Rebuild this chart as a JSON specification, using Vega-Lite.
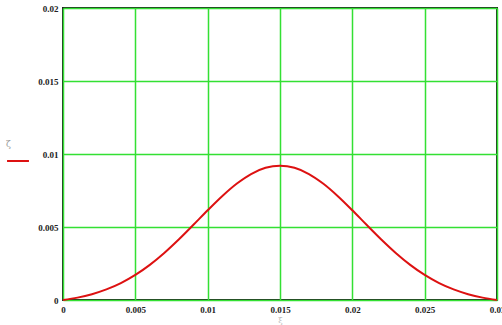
{
  "$schema": "https://vega.github.io/schema/vega-lite/v6.json",
  "width": 434,
  "height": 292,
  "autosize": {"type": "none"},
  "padding": {"left": 63, "top": 8, "right": 5, "bottom": 25},
  "background": "white",
  "config": {
    "view": {"stroke": "#222222", "strokeWidth": 2},
    "axis": {
      "labelFont": "Liberation Serif",
      "labelFontWeight": "bold",
      "labelFontSize": 9,
      "labelColor": "#222222",
      "grid": true,
      "gridColor": "#33e033",
      "gridWidth": 1.5,
      "gridOpacity": 1,
      "ticks": false,
      "domain": false
    }
  },
  "data": {
    "values": [
      {"xi": 0.000, "zeta": 0.0},
      {"xi": 0.001, "zeta": 0.000163},
      {"xi": 0.002, "zeta": 0.000398},
      {"xi": 0.003, "zeta": 0.000724},
      {"xi": 0.004, "zeta": 0.001158},
      {"xi": 0.005, "zeta": 0.001716},
      {"xi": 0.006, "zeta": 0.002405},
      {"xi": 0.007, "zeta": 0.003219},
      {"xi": 0.008, "zeta": 0.00414},
      {"xi": 0.009, "zeta": 0.005132},
      {"xi": 0.010, "zeta": 0.006144},
      {"xi": 0.011, "zeta": 0.00711},
      {"xi": 0.012, "zeta": 0.007961},
      {"xi": 0.013, "zeta": 0.008628},
      {"xi": 0.014, "zeta": 0.009054},
      {"xi": 0.015, "zeta": 0.0092},
      {"xi": 0.016, "zeta": 0.009054},
      {"xi": 0.017, "zeta": 0.008628},
      {"xi": 0.018, "zeta": 0.007961},
      {"xi": 0.019, "zeta": 0.00711},
      {"xi": 0.020, "zeta": 0.006144},
      {"xi": 0.021, "zeta": 0.005132},
      {"xi": 0.022, "zeta": 0.00414},
      {"xi": 0.023, "zeta": 0.003219},
      {"xi": 0.024, "zeta": 0.002405},
      {"xi": 0.025, "zeta": 0.001716},
      {"xi": 0.026, "zeta": 0.001158},
      {"xi": 0.027, "zeta": 0.000724},
      {"xi": 0.028, "zeta": 0.000398},
      {"xi": 0.029, "zeta": 0.000163},
      {"xi": 0.030, "zeta": 0.0}
    ]
  },
  "mark": {"type": "line", "strokeWidth": 2, "interpolate": "monotone", "clip": false},
  "encoding": {
    "x": {
      "field": "xi",
      "type": "quantitative",
      "scale": {"domain": [0, 0.03], "nice": false, "zero": false},
      "axis": {
        "values": [0, 0.005, 0.01, 0.015, 0.02, 0.025, 0.03],
        "labelExpr": "datum.value == 0 ? '0' : format(datum.value, '.3~f')",
        "labelPadding": 5,
        "labelFlush": false,
        "title": "ξ",
        "titleFont": "DejaVu Serif",
        "titleFontWeight": "normal",
        "titleFontSize": 8,
        "titleColor": "#bbbbbb",
        "titlePadding": 2
      }
    },
    "y": {
      "field": "zeta",
      "type": "quantitative",
      "scale": {"domain": [0, 0.02], "nice": false},
      "axis": {
        "values": [0, 0.005, 0.01, 0.015, 0.02],
        "labelExpr": "datum.value == 0 ? '0' : format(datum.value, '.3~f')",
        "labelPadding": 5,
        "labelFlush": false,
        "title": null
      }
    },
    "color": {
      "field": "name",
      "type": "nominal",
      "datum": "ζ",
      "scale": {"range": ["#dd1111"]},
      "legend": {
        "orient": "none",
        "legendX": -57,
        "legendY": 132,
        "title": "ζ",
        "titleFont": "DejaVu Serif",
        "titleFontWeight": "normal",
        "titleFontSize": 9,
        "titleColor": "#999999",
        "titlePadding": 0,
        "symbolType": "stroke",
        "symbolStrokeWidth": 2,
        "symbolSize": 480,
        "labelExpr": "''",
        "labelFontSize": 1
      }
    }
  }
}
